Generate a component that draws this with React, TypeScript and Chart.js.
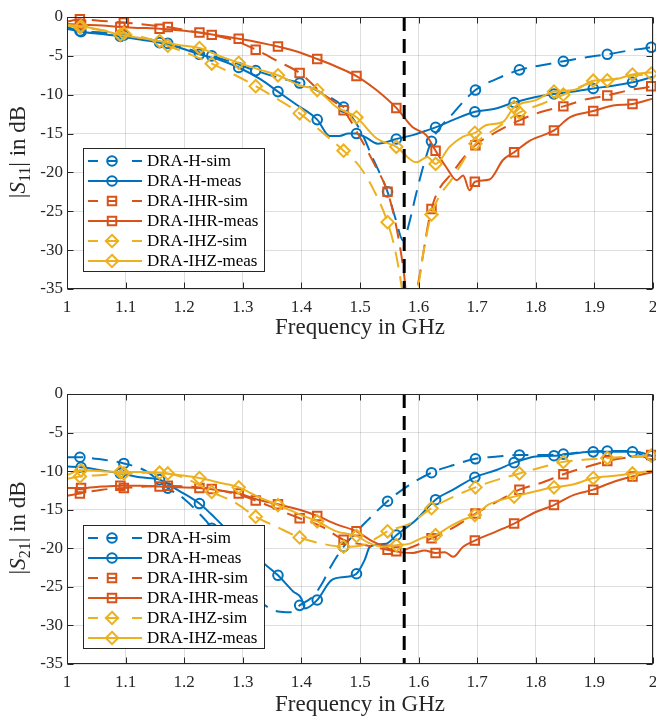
import React, { useEffect, useRef } from "react";
import { Chart, registerables } from "chart.js";

Chart.register(...registerables);

const FONT = '"Liberation Serif", "Times New Roman", serif';
const TXT = "#262626";
const GRID = "rgba(38,38,38,0.15)";
const BLUE = "#0072BD";
const RED = "#D95319";
const YELLOW = "#EDB120";

const xTicks = [1, 1.1, 1.2, 1.3, 1.4, 1.5, 1.6, 1.7, 1.8, 1.9, 2];
const xTickLabels = ["1", "1.1", "1.2", "1.3", "1.4", "1.5", "1.6", "1.7", "1.8", "1.9", "2"];
const yTicks = [-35, -30, -25, -20, -15, -10, -5, 0];
const yTickLabels = ["-35", "-30", "-25", "-20", "-15", "-10", "-5", "0"];
const gpsL1 = 1.57542;
const legendLabels = ["DRA-H-sim", "DRA-H-meas", "DRA-IHR-sim", "DRA-IHR-meas", "DRA-IHZ-sim", "DRA-IHZ-meas"];

const simMarkerFreqs = [1.022, 1.097, 1.172, 1.247, 1.322, 1.397, 1.472, 1.547, 1.622, 1.697, 1.772, 1.847, 1.922, 1.997];
const measMarkerFreqs = [1.024, 1.091, 1.158, 1.226, 1.293, 1.36, 1.427, 1.494, 1.562, 1.629, 1.696, 1.763, 1.831, 1.898, 1.965];

// ---------- |S11| ----------
const s11HSimFreq = [1.0, 1.022, 1.06, 1.097, 1.135, 1.172, 1.21, 1.247, 1.285, 1.322, 1.36, 1.397, 1.435, 1.472, 1.5, 1.522, 1.547, 1.56, 1.574, 1.584, 1.595, 1.608, 1.622, 1.66, 1.697, 1.735, 1.772, 1.81, 1.847, 1.885, 1.922, 1.96, 1.997, 2.0];
const s11HSimDb = [-1.3, -1.8, -2.0, -2.35, -2.8, -3.4, -4.2, -5.0, -5.9, -6.9, -7.8, -8.5, -9.8, -11.6, -14.5, -18.2, -22.5, -25.8, -28.8, -26.5, -23.0, -19.2, -16.0, -12.3, -9.4, -7.9, -6.8, -6.2, -5.7, -5.2, -4.8, -4.3, -3.9, -3.85];

const s11HMeasFreq = [1.0, 1.024, 1.06, 1.091, 1.125, 1.158, 1.19, 1.226, 1.26, 1.293, 1.33, 1.36, 1.39, 1.427, 1.448, 1.465, 1.48, 1.494, 1.51, 1.53, 1.562, 1.59, 1.61, 1.629, 1.66, 1.696, 1.73, 1.763, 1.8, 1.831, 1.865, 1.898, 1.935, 1.965, 2.0];
const s11HMeasDb = [-1.5, -1.9, -2.2, -2.5, -2.9, -3.3, -3.9, -4.8, -5.5, -6.5, -8.0, -9.6, -11.2, -13.2, -15.3, -15.3, -15.0, -15.0, -15.5, -16.3, -15.7, -15.2, -14.7, -14.2, -13.2, -12.2, -11.8, -11.0, -10.3, -9.9, -9.6, -9.2, -8.8, -8.4, -7.7];

const s11IhrSimFreq = [1.0, 1.022, 1.06, 1.097, 1.135, 1.172, 1.21, 1.247, 1.285, 1.322, 1.36, 1.397, 1.435, 1.472, 1.5, 1.525, 1.547, 1.562, 1.575, 1.585, 1.6, 1.622, 1.66, 1.697, 1.735, 1.772, 1.81, 1.847, 1.885, 1.922, 1.96, 1.997, 2.0];
const s11IhrSimDb = [-0.6, -0.3, -0.5, -0.7, -1.0, -1.3, -1.8, -2.3, -3.0, -4.2, -5.7, -7.2, -9.8, -12.0, -15.5, -19.0, -22.5, -27.0, -33.0, -40.0, -34.0, -24.7, -19.8, -16.5, -14.7, -13.3, -12.2, -11.5, -10.6, -10.1, -9.4, -8.9, -8.8];

const s11IhrMeasFreq = [1.0, 1.024, 1.06, 1.091, 1.125, 1.158, 1.19, 1.226, 1.26, 1.293, 1.33, 1.36, 1.395, 1.427, 1.46, 1.494, 1.528, 1.562, 1.59, 1.613, 1.629, 1.647, 1.665, 1.676, 1.687, 1.696, 1.721, 1.744, 1.763, 1.79, 1.831, 1.858, 1.898, 1.932, 1.965, 2.0];
const s11IhrMeasDb = [-0.9, -1.0, -1.1, -1.3, -1.4, -1.5, -1.7, -2.0, -2.4, -2.8, -3.3, -3.8, -4.5, -5.4, -6.4, -7.6, -9.4, -11.7, -14.2, -15.2, -17.2, -19.3, -21.0, -20.4, -22.3, -21.2, -20.9, -18.4, -17.4, -15.9, -14.6, -12.9, -12.1, -11.4, -11.2, -10.5];

const s11IhzSimFreq = [1.0, 1.022, 1.06, 1.097, 1.135, 1.172, 1.21, 1.247, 1.285, 1.322, 1.36, 1.397, 1.435, 1.472, 1.5, 1.525, 1.547, 1.56, 1.571, 1.58, 1.59, 1.6, 1.61, 1.622, 1.66, 1.697, 1.735, 1.772, 1.81, 1.847, 1.885, 1.922, 1.96, 1.997, 2.0];
const s11IhzSimDb = [-1.07, -1.3, -1.7, -2.1, -2.7, -3.7, -4.8, -6.0, -7.4, -8.9, -10.6, -12.4, -14.8, -17.2, -19.3, -22.5, -26.4, -30.0, -34.7, -40.0, -40.0, -34.5, -29.5, -25.4, -20.5, -16.3, -14.2, -12.3, -11.2, -10.0, -8.7, -8.15, -7.6, -7.3, -7.25];

const s11IhzMeasFreq = [1.0, 1.024, 1.06, 1.091, 1.125, 1.158, 1.19, 1.226, 1.26, 1.293, 1.33, 1.36, 1.397, 1.427, 1.46, 1.494, 1.528, 1.562, 1.596, 1.615, 1.629, 1.653, 1.676, 1.696, 1.716, 1.744, 1.763, 1.8, 1.831, 1.865, 1.898, 1.935, 1.965, 2.0];
const s11IhzMeasDb = [-1.0, -1.2, -1.7, -2.3, -2.7, -3.1, -3.6, -4.0, -5.0, -5.9, -6.8, -7.5, -8.8, -9.4, -11.6, -12.9, -15.6, -16.7, -18.7, -18.0, -18.9, -16.7, -15.4, -14.9, -13.9, -13.5, -11.6, -10.7, -9.6, -9.4, -8.2, -8.0, -7.4, -7.1];

// ---------- |S21| ----------
const s21HSimFreq = [1.0, 1.022, 1.06, 1.097, 1.135, 1.172, 1.2, 1.222, 1.247, 1.265, 1.285, 1.305, 1.322, 1.34, 1.36, 1.38, 1.397, 1.42, 1.435, 1.45, 1.472, 1.49, 1.51, 1.547, 1.58, 1.622, 1.66, 1.697, 1.735, 1.772, 1.81, 1.847, 1.885, 1.922, 1.96, 1.997, 2.0];
const s21HSimDb = [-8.2, -8.2, -8.5, -9.0, -10.0, -12.2, -13.6, -15.2, -17.4, -20.0, -22.4, -24.8, -26.3, -27.5, -28.2, -28.3, -27.4, -26.2, -24.6, -22.4, -19.8, -18.2, -16.6, -13.9, -12.0, -10.2, -9.2, -8.4, -8.1, -7.9, -7.9, -7.8, -7.5, -7.4, -7.4, -8.0, -8.1];

const s21HMeasFreq = [1.0, 1.024, 1.06, 1.091, 1.125, 1.158, 1.19, 1.226, 1.245, 1.265, 1.293, 1.315, 1.335, 1.36, 1.386, 1.4, 1.406, 1.427, 1.452, 1.477, 1.494, 1.508, 1.517, 1.545, 1.562, 1.596, 1.629, 1.659, 1.696, 1.733, 1.763, 1.8, 1.831, 1.865, 1.898, 1.935, 1.965, 2.0];
const s21HMeasDb = [-9.4, -9.5, -9.9, -10.3, -10.8, -11.1, -12.5, -14.2, -15.5, -17.0, -19.0, -20.6, -21.9, -23.5, -25.6, -26.5, -27.8, -26.7, -24.1, -23.7, -23.3, -21.5, -19.8, -19.4, -18.3, -16.3, -13.7, -12.4, -10.8, -9.85, -8.9, -8.1, -8.0, -7.7, -7.5, -7.5, -7.5, -8.8];

const s21IhrSimFreq = [1.0, 1.022, 1.06, 1.097, 1.135, 1.172, 1.21, 1.247, 1.285, 1.322, 1.36, 1.397, 1.435, 1.472, 1.51, 1.547, 1.562, 1.59, 1.622, 1.66, 1.697, 1.735, 1.772, 1.81, 1.847, 1.885, 1.922, 1.96, 1.997, 2.0];
const s21IhrSimDb = [-13.2, -12.9, -12.4, -12.2, -12.0, -11.9, -12.0, -12.3, -12.9, -13.8, -15.0, -16.1, -17.2, -18.9, -19.6, -20.2, -20.4, -19.8, -18.7, -17.3, -15.5, -13.9, -12.4, -11.5, -10.4, -9.5, -8.7, -8.2, -7.9, -7.8];

const s21IhrMeasFreq = [1.0, 1.024, 1.06, 1.091, 1.125, 1.158, 1.19, 1.226, 1.26, 1.293, 1.326, 1.36, 1.397, 1.427, 1.46, 1.494, 1.517, 1.545, 1.562, 1.59, 1.61, 1.629, 1.645, 1.659, 1.676, 1.696, 1.733, 1.763, 1.8, 1.831, 1.864, 1.898, 1.932, 1.965, 2.0];
const s21IhrMeasDb = [-12.2, -12.2, -12.0, -11.9, -11.9, -12.0, -12.1, -12.2, -12.5, -12.9, -13.7, -14.3, -15.0, -15.8, -16.9, -17.8, -18.9, -19.9, -20.4, -20.6, -20.3, -20.6, -20.5, -21.1, -19.8, -19.0, -17.8, -16.8, -15.3, -14.4, -13.1, -12.4, -11.4, -10.7, -10.1];

const s21IhzSimFreq = [1.0, 1.022, 1.06, 1.097, 1.135, 1.172, 1.21, 1.247, 1.285, 1.322, 1.36, 1.397, 1.435, 1.472, 1.505, 1.53, 1.547, 1.585, 1.622, 1.66, 1.697, 1.735, 1.772, 1.81, 1.847, 1.885, 1.922, 1.96, 1.997, 2.0];
const s21IhzSimDb = [-11.0, -10.7, -10.5, -10.3, -10.2, -10.3, -11.2, -12.7, -14.0, -15.9, -17.3, -18.6, -19.4, -19.8, -19.6, -18.6, -17.8, -16.8, -14.8, -13.3, -12.1, -11.1, -10.3, -9.5, -8.8, -8.5, -8.3, -8.1, -8.0, -8.0];

const s21IhzMeasFreq = [1.0, 1.024, 1.06, 1.091, 1.125, 1.158, 1.19, 1.226, 1.26, 1.293, 1.323, 1.36, 1.397, 1.427, 1.46, 1.494, 1.515, 1.539, 1.562, 1.585, 1.608, 1.629, 1.653, 1.676, 1.696, 1.72, 1.763, 1.8, 1.831, 1.865, 1.898, 1.935, 1.965, 2.0];
const s21IhzMeasDb = [-10.5, -9.9, -10.0, -10.1, -10.1, -10.2, -10.5, -10.9, -11.5, -12.1, -13.2, -14.4, -15.6, -16.5, -17.8, -18.4, -19.3, -19.8, -19.6, -19.4, -18.6, -18.3, -17.2, -16.3, -15.7, -14.3, -13.3, -12.6, -12.1, -11.7, -10.9, -10.6, -10.3, -9.9];

type Shape = "circle" | "rect" | "rectRot";
interface Series {
  label: string;
  color: string;
  dashed: boolean;
  shape: Shape;
  f: number[];
  db: number[];
  mk: number[];
}

const styleOf: { color: string; dashed: boolean; shape: Shape; sim: boolean }[] = [
  { color: BLUE, dashed: true, shape: "circle", sim: true },
  { color: BLUE, dashed: false, shape: "circle", sim: false },
  { color: RED, dashed: true, shape: "rect", sim: true },
  { color: RED, dashed: false, shape: "rect", sim: false },
  { color: YELLOW, dashed: true, shape: "rectRot", sim: true },
  { color: YELLOW, dashed: false, shape: "rectRot", sim: false },
];

function makeSeries(pairs: [number[], number[]][]): Series[] {
  return pairs.map(([f, db], i) => ({
    label: legendLabels[i],
    color: styleOf[i].color,
    dashed: styleOf[i].dashed,
    shape: styleOf[i].shape,
    f,
    db,
    mk: styleOf[i].sim ? simMarkerFreqs : measMarkerFreqs,
  }));
}

const s11Series = makeSeries([
  [s11HSimFreq, s11HSimDb],
  [s11HMeasFreq, s11HMeasDb],
  [s11IhrSimFreq, s11IhrSimDb],
  [s11IhrMeasFreq, s11IhrMeasDb],
  [s11IhzSimFreq, s11IhzSimDb],
  [s11IhzMeasFreq, s11IhzMeasDb],
]);
const s21Series = makeSeries([
  [s21HSimFreq, s21HSimDb],
  [s21HMeasFreq, s21HMeasDb],
  [s21IhrSimFreq, s21IhrSimDb],
  [s21IhrMeasFreq, s21IhrMeasDb],
  [s21IhzSimFreq, s21IhzSimDb],
  [s21IhzMeasFreq, s21IhzMeasDb],
]);

const radiusOf: Record<Shape, number> = { circle: 4.8, rect: 6, rectRot: 6.2 };
const DATA_DASH = [16, 9];

function drawMarker(ctx: CanvasRenderingContext2D, shape: Shape, x: number, y: number) {
  ctx.beginPath();
  if (shape === "circle") {
    ctx.arc(x, y, radiusOf.circle, 0, Math.PI * 2);
  } else if (shape === "rect") {
    const h = radiusOf.rect * Math.SQRT1_2;
    ctx.rect(x - h, y - h, 2 * h, 2 * h);
  } else {
    const r = radiusOf.rectRot;
    ctx.moveTo(x, y - r);
    ctx.lineTo(x + r, y);
    ctx.lineTo(x, y + r);
    ctx.lineTo(x - r, y);
    ctx.closePath();
  }
  ctx.stroke();
}

function makeDecorPlugin(series: Series[], sub: string) {
  return {
    id: "matlabDecor",
    afterDatasetsDraw(chart: any) {
      const { ctx, chartArea: a, scales } = chart;
      ctx.save();
      ctx.strokeStyle = TXT;
      ctx.lineWidth = 1;
      ctx.setLineDash([]);
      const L = Math.round(a.left) + 0.5;
      const R = Math.round(a.right) - 0.5;
      const T = Math.round(a.top) + 0.5;
      const B = Math.round(a.bottom) - 0.5;
      ctx.strokeRect(L, T, R - L, B - T);
      const tl = 6;
      ctx.beginPath();
      xTicks.forEach((v) => {
        const px = Math.round(scales.x.getPixelForValue(v)) + 0.5;
        ctx.moveTo(px, B);
        ctx.lineTo(px, B - tl);
        ctx.moveTo(px, T);
        ctx.lineTo(px, T + tl);
      });
      yTicks.forEach((v) => {
        const py = Math.round(scales.y.getPixelForValue(v)) + 0.5;
        ctx.moveTo(L, py);
        ctx.lineTo(L + tl, py);
        ctx.moveTo(R, py);
        ctx.lineTo(R - tl, py);
      });
      ctx.stroke();
      ctx.restore();
    },
    afterDraw(chart: any) {
      const { ctx, chartArea: a } = chart;
      ctx.save();
      // legend
      const x0 = Math.round(a.left) + 16;
      const y0 = Math.round(a.top) + 131;
      const w = 181;
      const h = 123;
      ctx.fillStyle = "#ffffff";
      ctx.fillRect(x0, y0, w, h);
      ctx.strokeStyle = TXT;
      ctx.lineWidth = 1;
      ctx.setLineDash([]);
      ctx.strokeRect(x0 + 0.5, y0 + 0.5, w, h);
      series.forEach((s, i) => {
        const cy = y0 + 13 + 20 * i;
        ctx.strokeStyle = s.color;
        ctx.lineWidth = 2;
        ctx.beginPath();
        if (s.dashed) {
          ctx.moveTo(x0 + 5, cy);
          ctx.lineTo(x0 + 15, cy);
          ctx.moveTo(x0 + 24, cy);
          ctx.lineTo(x0 + 34, cy);
          ctx.moveTo(x0 + 49, cy);
          ctx.lineTo(x0 + 59, cy);
        } else {
          ctx.moveTo(x0 + 5, cy);
          ctx.lineTo(x0 + 59, cy);
        }
        ctx.stroke();
        drawMarker(ctx, s.shape, x0 + 29, cy);
        ctx.fillStyle = "#000000";
        ctx.font = `17px ${FONT}`;
        ctx.textBaseline = "middle";
        ctx.textAlign = "left";
        ctx.fillText(s.label, x0 + 64, cy + 1);
      });
      // y-axis title: |S_sub| in dB
      const cx = Math.round(a.left) - 42;
      const cyT = (a.top + a.bottom) / 2 - 1;
      const parts = [
        { t: "|", font: `23px ${FONT}`, dy: 0 },
        { t: "S", font: `italic 23px ${FONT}`, dy: 0 },
        { t: sub, font: `16px ${FONT}`, dy: 5 },
        { t: "| in dB", font: `23px ${FONT}`, dy: 0 },
      ];
      let total = 0;
      const widths = parts.map((p) => {
        ctx.font = p.font;
        const wd = ctx.measureText(p.t).width;
        total += wd;
        return wd;
      });
      ctx.translate(cx, cyT);
      ctx.rotate(-Math.PI / 2);
      ctx.fillStyle = TXT;
      ctx.textBaseline = "alphabetic";
      ctx.textAlign = "left";
      let xx = -total / 2;
      parts.forEach((p, i) => {
        ctx.font = p.font;
        ctx.fillText(p.t, xx, p.dy);
        xx += widths[i];
      });
      ctx.restore();
    },
  };
}

function buildConfig(series: Series[], sub: string, padTop: number, xAxisH: number, titlePadB: number) {
  const datasets: any[] = [
    {
      label: "GPS L1",
      data: [
        { x: gpsL1, y: 0 },
        { x: gpsL1, y: -35 },
      ],
      borderColor: "#000000",
      borderWidth: 3,
      borderDash: [14, 8],
      pointRadius: 0,
      fill: false,
      order: 0,
      clip: 0,
    },
  ];
  series.forEach((s, i) => {
    datasets.push({
      label: s.label,
      data: s.f.map((x, k) => ({ x, y: s.db[k] })),
      borderColor: s.color,
      borderWidth: 2,
      borderDash: s.dashed ? DATA_DASH : [],
      cubicInterpolationMode: "monotone",
      pointStyle: s.shape,
      pointRadius: (c: any) => (s.mk.includes(s.f[c.dataIndex]) ? radiusOf[s.shape] : 0),
      pointBorderColor: s.color,
      pointBackgroundColor: "rgba(0,0,0,0)",
      pointBorderWidth: 2,
      fill: false,
      order: 6 - i,
      clip: { left: 8, right: 8, top: 8, bottom: 0 },
    });
  });
  return {
    type: "line",
    data: { datasets },
    options: {
      animation: false,
      responsive: false,
      devicePixelRatio: 1,
      events: [],
      layout: { padding: { left: 0, right: 3, top: padTop, bottom: 0 } },
      plugins: { legend: { display: false }, tooltip: { enabled: false }, title: { display: false } },
      scales: {
        x: {
          type: "linear",
          min: 1,
          max: 2,
          afterBuildTicks: (sc: any) => {
            sc.ticks = xTicks.map((v) => ({ value: v }));
          },
          afterFit: (sc: any) => {
            sc.height = xAxisH;
            sc.paddingLeft = 0;
            sc.paddingRight = 0;
          },
          grid: { color: GRID, lineWidth: 1, drawTicks: false },
          border: { display: false },
          ticks: {
            padding: 8,
            color: TXT,
            autoSkip: false,
            maxRotation: 0,
            font: { family: FONT, size: 17 },
            callback: (v: number) => xTickLabels[xTicks.findIndex((t) => Math.abs(t - v) < 1e-9)],
          },
          title: {
            display: true,
            text: "Frequency in GHz",
            color: TXT,
            font: { family: FONT, size: 23 },
            padding: { top: 0, bottom: titlePadB },
          },
        },
        y: {
          type: "linear",
          min: -35,
          max: 0,
          afterBuildTicks: (sc: any) => {
            sc.ticks = yTicks.map((v) => ({ value: v }));
          },
          afterFit: (sc: any) => {
            sc.width = 67;
            sc.paddingTop = 0;
            sc.paddingBottom = 0;
          },
          grid: { color: GRID, lineWidth: 1, drawTicks: false },
          border: { display: false },
          ticks: {
            padding: 4,
            color: TXT,
            autoSkip: false,
            font: { family: FONT, size: 17 },
            callback: (v: number) => yTickLabels[yTicks.findIndex((t) => Math.abs(t - v) < 1e-9)],
          },
          title: { display: false },
        },
      },
    },
    plugins: [makeDecorPlugin(series, sub)],
  };
}

function Plot(props: { series: Series[]; sub: string; height: number; padTop: number; xAxisH: number; titlePadB: number }) {
  const ref = useRef<HTMLCanvasElement | null>(null);
  useEffect(() => {
    if (!ref.current) return;
    const chart = new Chart(ref.current, buildConfig(props.series, props.sub, props.padTop, props.xAxisH, props.titlePadB) as any);
    return () => chart.destroy();
  }, []);
  return <canvas ref={ref} width={656} height={props.height} style={{ display: "block", width: 656, height: props.height }} />;
}

export default function App() {
  return (
    <div style={{ position: "absolute", left: 0, top: 0, width: 656, height: 719, background: "#ffffff" }}>
      <Plot series={s11Series} sub="11" height={345} padTop={17} xAxisH={56} titlePadB={3} />
      <Plot series={s21Series} sub="21" height={374} padTop={49} xAxisH={55} titlePadB={0} />
    </div>
  );
}
